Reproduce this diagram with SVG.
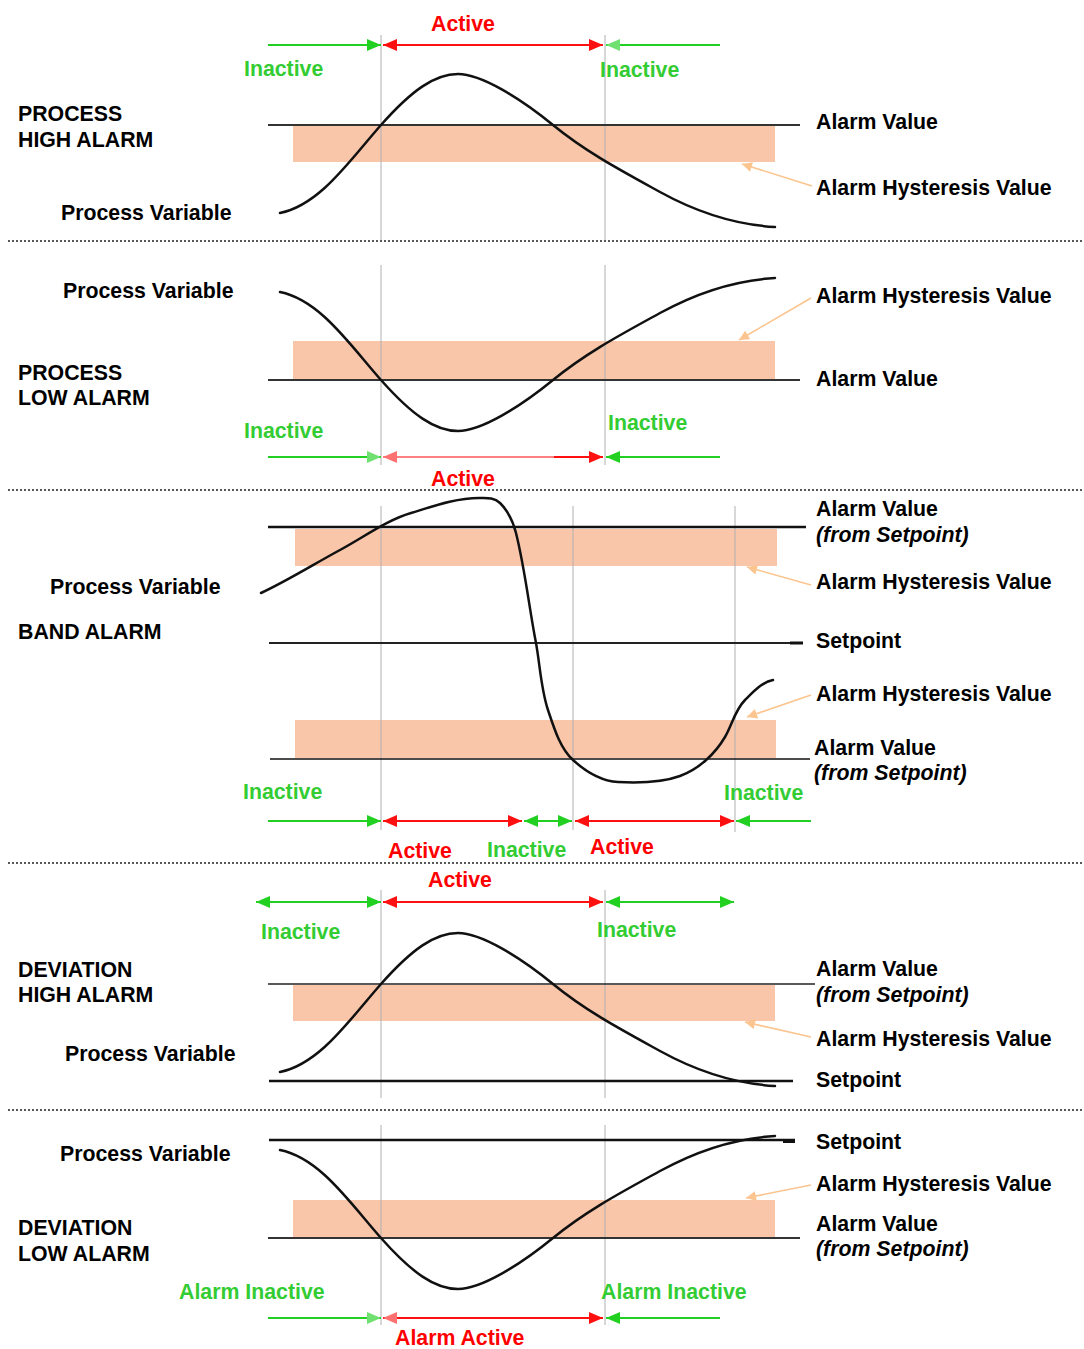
<svg xmlns="http://www.w3.org/2000/svg" width="1084" height="1349" viewBox="0 0 1084 1349">
<style>
text{font-family:"Liberation Sans",Arial,sans-serif;font-weight:bold;font-size:21.3px;fill:#000}
.g{fill:#33cc33}
.r{fill:#ff0000}
.it{font-style:italic}
.sep{stroke:#222;stroke-width:1.5;stroke-dasharray:2,2}
.vl{stroke:#b0b0b0;stroke-width:1}
.al{stroke:#333;stroke-width:2}
.hy{fill:#f9c6aa}
.cv{fill:none;stroke:#111;stroke-width:2.5;stroke-linecap:round}
.gl{stroke:#22d022;stroke-width:2}
.rl{stroke:#ff1010;stroke-width:2}
.pt{stroke:#fcc48e;stroke-width:1.6}
</style>
<defs>
<marker id="ag" viewBox="0 0 14 12" refX="14" refY="6" markerWidth="14" markerHeight="12" markerUnits="userSpaceOnUse" orient="auto-start-reverse"><path d="M0,0L14,6L0,12z" fill="#22d022"/></marker>
<marker id="ar" viewBox="0 0 14 12" refX="14" refY="6" markerWidth="14" markerHeight="12" markerUnits="userSpaceOnUse" orient="auto-start-reverse"><path d="M0,0L14,6L0,12z" fill="#ff1010"/></marker>
<marker id="arl" viewBox="0 0 14 12" refX="14" refY="6" markerWidth="14" markerHeight="12" markerUnits="userSpaceOnUse" orient="auto-start-reverse"><path d="M0,0L14,6L0,12z" fill="#ff7070"/></marker>
<marker id="agl" viewBox="0 0 14 12" refX="14" refY="6" markerWidth="14" markerHeight="12" markerUnits="userSpaceOnUse" orient="auto-start-reverse"><path d="M0,0L14,6L0,12z" fill="#70e070"/></marker>
<marker id="ap" viewBox="0 0 10 10" refX="10" refY="5" markerWidth="11" markerHeight="10" markerUnits="userSpaceOnUse" orient="auto"><path d="M0,0L10,5L0,10z" fill="#fcc48e"/></marker>
<path id="hiCurve" d="M280,213 C320,205 350,160 381,125 S435,74 458,74 S520,98 553,125 S620,170 660,192 S740,225 775,227"/>
<path id="loCurve" d="M280,292 C320,300 350,345 381,380 S435,431 458,431 S520,407 553,380 S620,335 660,313 S740,280 775,278"/>
</defs>

<g id="separators">
<line class="sep" x1="8" y1="241" x2="1084" y2="241"/>
<line class="sep" x1="8" y1="490" x2="1084" y2="490"/>
<line class="sep" x1="8" y1="863" x2="1084" y2="863"/>
<line class="sep" x1="8" y1="1110" x2="1084" y2="1110"/>
</g>

<!-- PROCESS HIGH ALARM -->
<g id="process-high">
<rect class="hy" x="293" y="126" width="482" height="36"/>
<line class="vl" x1="381" y1="35" x2="381" y2="240"/>
<line class="vl" x1="605" y1="35" x2="605" y2="240"/>
<line class="al" x1="268" y1="125" x2="800" y2="125"/>
<use href="#hiCurve" class="cv"/>
<text x="18" y="121">PROCESS</text>
<text x="18" y="147">HIGH ALARM</text>
<text x="61" y="220">Process Variable</text>
<text x="816" y="129">Alarm Value</text>
<text x="816" y="195">Alarm Hysteresis Value</text>
<text class="r" x="431" y="31">Active</text>
<text class="g" x="244" y="76">Inactive</text>
<text class="g" x="600" y="77">Inactive</text>
</g>

<!-- PROCESS LOW ALARM -->
<g id="process-low">
<rect class="hy" x="293" y="341" width="482" height="38"/>
<line class="vl" x1="381" y1="265" x2="381" y2="465"/>
<line class="vl" x1="605" y1="265" x2="605" y2="465"/>
<line class="al" x1="268" y1="380" x2="800" y2="380"/>
<use href="#loCurve" class="cv"/>
<text x="63" y="298">Process Variable</text>
<text x="18" y="380">PROCESS</text>
<text x="18" y="405">LOW ALARM</text>
<text x="816" y="303">Alarm Hysteresis Value</text>
<text x="816" y="386">Alarm Value</text>
<text class="g" x="244" y="438">Inactive</text>
<text class="g" x="608" y="430">Inactive</text>
<text class="r" x="431" y="486">Active</text>
</g>

<!-- BAND ALARM -->
<g id="band">
<rect class="hy" x="295" y="529" width="482" height="37"/>
<rect class="hy" x="295" y="720" width="481" height="38"/>
<line class="vl" x1="381" y1="506" x2="381" y2="830"/>
<line class="vl" x1="573" y1="506" x2="573" y2="830"/>
<line class="vl" x1="735" y1="506" x2="735" y2="832"/>
<line stroke="#111" stroke-width="2.5" x1="268" y1="527" x2="806" y2="527"/>
<line stroke="#222" stroke-width="1.8" x1="269" y1="643" x2="803" y2="643"/>
<line stroke="#111" stroke-width="3" x1="790" y1="643" x2="803" y2="643"/>
<line stroke="#111" stroke-width="1.6" x1="270" y1="759" x2="810" y2="759"/>
<path class="cv" d="M261,593 C287,581 314,564 340,550 C364,537 387,520 411,513 C434,506 456,498 479,498 C486,498 494,497 500,503 C507,510 513,521 516,533 C525,569 529,607 536,643 C540,665 541,689 548,710 C554,728 560,748 573,760 C585,771 601,781 618,782 C638,783 661,783 680,776 C699,769 715,754 725,737 C732,725 735,710 745,700 C753,692 762,682 773,680"/>
<text x="50" y="594">Process Variable</text>
<text x="18" y="639">BAND ALARM</text>
<text x="816" y="516">Alarm Value</text>
<text class="it" x="816" y="542">(from Setpoint)</text>
<text x="816" y="589">Alarm Hysteresis Value</text>
<text x="816" y="648">Setpoint</text>
<text x="816" y="701">Alarm Hysteresis Value</text>
<text x="814" y="755">Alarm Value</text>
<text class="it" x="814" y="780">(from Setpoint)</text>
<text class="g" x="243" y="799">Inactive</text>
<text class="g" x="724" y="800">Inactive</text>
<text class="r" x="388" y="858">Active</text>
<text class="g" x="487" y="857">Inactive</text>
<text class="r" x="590" y="854">Active</text>
</g>

<!-- DEVIATION HIGH ALARM -->
<g id="deviation-high">
<rect class="hy" x="293" y="985" width="482" height="36"/>
<line class="vl" x1="381" y1="890" x2="381" y2="1098"/>
<line class="vl" x1="605" y1="890" x2="605" y2="1098"/>
<line stroke="#222" stroke-width="1.6" x1="268" y1="984" x2="815" y2="984"/>
<line stroke="#111" stroke-width="2.6" x1="269" y1="1081" x2="793" y2="1081"/>
<use href="#hiCurve" class="cv" transform="translate(0,859)"/>
<text x="18" y="977">DEVIATION</text>
<text x="18" y="1002">HIGH ALARM</text>
<text x="65" y="1061">Process Variable</text>
<text x="816" y="976">Alarm Value</text>
<text class="it" x="816" y="1002">(from Setpoint)</text>
<text x="816" y="1046">Alarm Hysteresis Value</text>
<text x="816" y="1087">Setpoint</text>
<text class="r" x="428" y="887">Active</text>
<text class="g" x="261" y="939">Inactive</text>
<text class="g" x="597" y="937">Inactive</text>
</g>

<!-- DEVIATION LOW ALARM -->
<g id="deviation-low">
<rect class="hy" x="293" y="1200" width="482" height="38"/>
<line class="vl" x1="381" y1="1125" x2="381" y2="1325"/>
<line class="vl" x1="605" y1="1125" x2="605" y2="1325"/>
<line stroke="#111" stroke-width="2.6" x1="269" y1="1140" x2="795" y2="1140"/>
<line stroke="#111" stroke-width="4" x1="783" y1="1141" x2="795" y2="1141"/>
<line class="al" x1="268" y1="1238" x2="800" y2="1238"/>
<use href="#loCurve" class="cv" transform="translate(0,858)"/>
<text x="60" y="1161">Process Variable</text>
<text x="18" y="1235">DEVIATION</text>
<text x="18" y="1261">LOW ALARM</text>
<text x="816" y="1149">Setpoint</text>
<text x="816" y="1191">Alarm Hysteresis Value</text>
<text x="816" y="1231">Alarm Value</text>
<text class="it" x="816" y="1256">(from Setpoint)</text>
<text class="g" x="179" y="1299">Alarm Inactive</text>
<text class="g" x="601" y="1299">Alarm Inactive</text>
<text class="r" x="395" y="1345">Alarm Active</text>
</g>

<g id="connectors">
<!-- section 1 -->
<line class="gl" x1="268" y1="45" x2="381" y2="45" marker-end="url(#ag)"/>
<line class="rl" x1="383" y1="45" x2="603" y2="45" marker-start="url(#ar)" marker-end="url(#ar)"/>
<line class="gl" x1="720" y1="45" x2="606" y2="45" marker-end="url(#agl)"/>
<line class="pt" x1="812" y1="186" x2="742" y2="164" marker-end="url(#ap)"/>
<!-- section 2 -->
<line class="gl" x1="268" y1="457" x2="381" y2="457" marker-end="url(#agl)"/>
<line stroke="#ff8080" stroke-width="2" x1="383" y1="457" x2="555" y2="457" marker-start="url(#arl)"/>
<line class="rl" x1="554" y1="457" x2="603" y2="457" marker-end="url(#ar)"/>
<line class="gl" x1="720" y1="457" x2="606" y2="457" marker-end="url(#ag)"/>
<line class="pt" x1="811" y1="298" x2="739" y2="340" marker-end="url(#ap)"/>
<!-- band -->
<line class="gl" x1="268" y1="821" x2="381" y2="821" marker-end="url(#ag)"/>
<line class="rl" x1="383" y1="821" x2="522" y2="821" marker-start="url(#ar)" marker-end="url(#ar)"/>
<line class="gl" x1="524" y1="821" x2="572" y2="821" marker-start="url(#ag)" marker-end="url(#ag)"/>
<line class="rl" x1="575" y1="821" x2="734" y2="821" marker-start="url(#ar)" marker-end="url(#ar)"/>
<line class="gl" x1="811" y1="821" x2="736" y2="821" marker-end="url(#ag)"/>
<line class="pt" x1="811" y1="585" x2="747" y2="567" marker-end="url(#ap)"/>
<line class="pt" x1="811" y1="695" x2="747" y2="717" marker-end="url(#ap)"/>
<!-- deviation high -->
<line class="gl" x1="256" y1="902" x2="381" y2="902" marker-start="url(#ag)" marker-end="url(#ag)"/>
<line class="rl" x1="383" y1="902" x2="603" y2="902" marker-start="url(#ar)" marker-end="url(#ar)"/>
<line class="gl" x1="606" y1="902" x2="734" y2="902" marker-start="url(#ag)" marker-end="url(#ag)"/>
<line class="pt" x1="811" y1="1037" x2="745" y2="1022" marker-end="url(#ap)"/>
<!-- deviation low -->
<line class="gl" x1="268" y1="1318" x2="381" y2="1318" marker-end="url(#agl)"/>
<line class="rl" x1="383" y1="1318" x2="603" y2="1318" marker-start="url(#arl)" marker-end="url(#ar)"/>
<line class="gl" x1="720" y1="1318" x2="606" y2="1318" marker-end="url(#ag)"/>
<line class="pt" x1="811" y1="1185" x2="746" y2="1198" marker-end="url(#ap)"/>
</g>
</svg>
